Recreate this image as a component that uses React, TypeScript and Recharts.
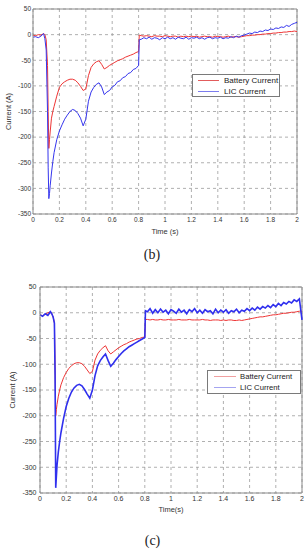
import React from 'react';
import { LineChart, Line, XAxis, YAxis, CartesianGrid, ReferenceLine, Legend, Label } from 'recharts';

// ---------- data ----------
const time = [
  0, 0.02, 0.04, 0.06, 0.08, 0.09, 0.1, 0.11, 0.115, 0.12,
  0.125, 0.13, 0.14, 0.15, 0.16, 0.18, 0.2, 0.22, 0.24, 0.26,
  0.28, 0.3, 0.32, 0.34, 0.36, 0.38, 0.4, 0.42, 0.44, 0.46,
  0.48, 0.5, 0.52, 0.54, 0.56, 0.58, 0.6, 0.62, 0.64, 0.66,
  0.68, 0.7, 0.72, 0.74, 0.76, 0.78, 0.8, 0.805,
  0.82, 0.84, 0.86, 0.88, 0.9, 0.92, 0.94, 0.96, 0.98, 1.0,
  1.02, 1.04, 1.06, 1.08, 1.1, 1.12, 1.14, 1.16, 1.18, 1.2,
  1.22, 1.24, 1.26, 1.28, 1.3, 1.32, 1.34, 1.36, 1.38, 1.4,
  1.42, 1.44, 1.46, 1.48, 1.5, 1.52, 1.54, 1.56, 1.58, 1.6,
  1.62, 1.64, 1.66, 1.68, 1.7, 1.72, 1.74, 1.76, 1.78, 1.8,
  1.82, 1.84, 1.86, 1.88, 1.9, 1.92, 1.94, 1.96, 1.98, 2,
];

// panel (b)
const batteryB = [
  -1, -2, 0, -1, 2, 0, -10, -60, -150, -222,
  -205, -190, -163, -150, -140, -120, -103, -96, -92, -89,
  -87, -87, -89, -94, -101, -109, -106, -80, -64, -57,
  -53, -51, -58, -67, -64, -60, -57, -54, -51, -49,
  -47, -44, -42, -40, -38, -35, -33, -1,
  -2, -3, -2, -3, -4, -2, -3, -3, -4, -2,
  -3, -4, -3, -3, -5, -3, -4, -3, -4, -3,
  -4, -3, -5, -4, -3, -4, -4, -5, -3, -4,
  -4, -5, -4, -3, -5, -4, -4, -5, -4, -3,
  -2, -2, -1, -1, 0, 0, 1, 1, 2, 2,
  3, 3, 4, 4, 5, 5, 6, 6, 7, 6,
];
const licB = [
  -5, -4, -6, -3, 2, -8, -30, -150, -260, -320,
  -310, -295, -270, -248, -230, -205, -188, -176, -165, -157,
  -150, -146, -148, -154, -163, -178, -165, -130, -112, -103,
  -97, -94, -102, -117, -112, -109, -102, -99, -92, -90,
  -84, -82, -76, -74, -68, -66, -60, -10,
  -9, -6, -8, -5, -9, -6, -7, -10, -6, -8,
  -5, -8, -6, -9, -5, -7, -8, -5, -9, -6,
  -7, -5, -8, -6, -9, -6, -5, -8, -6, -7,
  -5, -8, -6, -7, -4, -6, -3, -5, -2, -1,
  1, 3, 2, 5, 4, 7, 6, 9, 8, 11,
  10, 13, 12, 15, 14, 18, 16, 20, 22, 24,
];

// panel (c)
const batteryC = [
  -4, -6, -3, 0, 2, -2, -8, -20, -100, -200,
  -188, -178, -162, -150, -140, -126, -116, -108, -103, -99,
  -97, -97, -99, -104, -111, -118, -114, -92, -80, -73,
  -68, -64, -74, -80, -76, -72, -68, -65, -62, -60,
  -57, -55, -53, -51, -50, -48, -47, -13,
  -13, -14, -13, -14, -14, -13, -14, -14, -13, -14,
  -14, -14, -13, -14, -14, -14, -13, -14, -14, -14,
  -14, -13, -14, -14, -15, -14, -14, -14, -15, -14,
  -15, -14, -14, -15, -15, -14, -15, -14, -13, -12,
  -11, -10, -9, -8, -8, -7, -6, -5, -4, -4,
  -3, -2, -1, -1, 0, 1, 1, 2, 3, 3,
];
const licC = [
  -4, -7, -2, -5, 2, -2, -8, -20, -120, -340,
  -318, -296, -270, -250, -233, -205, -182, -166, -154, -146,
  -141, -139, -142, -149, -158, -166, -150, -122, -103, -93,
  -86, -80, -93, -104, -98, -91, -85, -79, -74, -70,
  -66, -63, -60, -57, -54, -51, -48, 4,
  2, 8, -1, 6, 0, 7, 1, 5, -2, 6,
  3, -1, 7, 1, 5, -2, 6, 2, 8, 0,
  5, -1, 6, 2, 4, -2, 7, 0, 5, 1,
  6, -1, 4, 2, 7, 0, 5, 3, 8, 4,
  9, 5, 11, 7, 12, 9, 14, 10, 16, 12,
  18, 14, 20, 17, 22, 19, 25, 22, 27, -14,
];

const xTicks = [0, 0.2, 0.4, 0.6, 0.8, 1, 1.2, 1.4, 1.6, 1.8, 2];
const yTicks = [50, 0, -50, -100, -150, -200, -250, -300, -350];
const seriesNames = ['Battery Current', 'LIC Current'];
const yTitle = 'Current (A)';
const xTitleB = 'Time (s)';
const xTitleC = 'Time(s)';
const captions = ['(b)', '(c)'];

const rowsB = time.map((t, i) => ({ t, bat: batteryB[i], lic: licB[i] }));
const rowsC = time.map((t, i) => ({ t, bat: batteryC[i], lic: licC[i] }));

const FONT = '"Liberation Sans", Arial, sans-serif';

type PanelCfg = {
  data: any[];
  top: number;
  height: number;
  right: number;
  yw: number;
  tickFs: number;
  yTickGap: number;
  xTickGap: number;
  titleFs: number;
  xTitle: string;
  xTitleY: number;
  yTitleX: number;
  legend: { left: number; top: number; width: number; height: number; r1: number; r2: number; lx: number; lw: number; tx: number; fs: number; colors: string[] };
  batColor: string;
  licColor: string;
  batW: number;
  licW: number;
};

function Panel(p: PanelCfg) {
  const plotLeft = p.yw;
  const plotRight = 308 - p.right;
  const plotTop = 9;
  const plotBottom = p.height - 26;
  const lg = p.legend;
  const legendContent = (props: any) => {
    const payload = props.payload || [];
    return (
      <div
        style={{
          position: 'relative',
          width: lg.width,
          height: lg.height,
          boxSizing: 'border-box',
          border: '1px solid #7a7a7a',
          background: '#fff',
          fontFamily: FONT,
          fontSize: lg.fs,
          color: '#222',
        }}
      >
        {payload.map((e: any, i: number) => {
          const cy = i === 0 ? lg.r1 : lg.r2;
          return (
            <React.Fragment key={i}>
              <div
                style={{
                  position: 'absolute',
                  left: lg.lx,
                  top: cy - 1,
                  width: lg.lw,
                  height: 0,
                  borderTop: `1px solid ${lg.colors[i]}`,
                }}
              />
              <div
                style={{
                  position: 'absolute',
                  left: lg.tx,
                  top: cy - 6,
                  height: 12,
                  lineHeight: '12px',
                  whiteSpace: 'nowrap',
                }}
              >
                {e.value}
              </div>
            </React.Fragment>
          );
        })}
      </div>
    );
  };
  return (
    <div style={{ position: 'absolute', left: 0, top: p.top, width: 308, height: p.height }}>
      <LineChart
        width={308}
        height={p.height}
        data={p.data}
        margin={{ top: plotTop, right: p.right, left: 0, bottom: 0 }}
      >
        <CartesianGrid stroke="#9c9c9c" strokeDasharray="3 3" strokeWidth={0.8} />
        <XAxis
          dataKey="t"
          type="number"
          domain={[0, 2]}
          ticks={xTicks}
          interval={0}
          height={26}
          tickSize={0}
          tickMargin={p.xTickGap}
          tickLine={false}
          axisLine={{ stroke: '#8a8a8a' }}
          tick={{ fontSize: p.tickFs, fill: '#333', fontFamily: FONT }}
          tickFormatter={(v: number) => String(v)}
        >
          <Label
            content={() => (
              <text
                x={(plotLeft + plotRight) / 2}
                y={p.xTitleY}
                textAnchor="middle"
                dominantBaseline="central"
                fontSize={p.titleFs}
                fontFamily={FONT}
                fill="#333"
              >
                {p.xTitle}
              </text>
            )}
          />
        </XAxis>
        <YAxis
          type="number"
          domain={[-350, 50]}
          ticks={yTicks}
          interval={0}
          width={p.yw}
          tickSize={0}
          tickMargin={p.yTickGap}
          tickLine={false}
          axisLine={{ stroke: '#8a8a8a' }}
          tick={{ fontSize: p.tickFs, fill: '#333', fontFamily: FONT }}
        >
          <Label
            content={() => {
              const cy = (plotTop + plotBottom) / 2;
              return (
                <text
                  x={p.yTitleX}
                  y={cy}
                  transform={`rotate(-90 ${p.yTitleX} ${cy})`}
                  textAnchor="middle"
                  dominantBaseline="central"
                  fontSize={p.titleFs}
                  fontFamily={FONT}
                  fill="#333"
                >
                  {yTitle}
                </text>
              );
            }}
          />
        </YAxis>
        <ReferenceLine y={50} stroke="#8a8a8a" strokeWidth={1} />
        <ReferenceLine x={2} stroke="#8a8a8a" strokeWidth={1} />
        <Line
          type="linear"
          dataKey="bat"
          name={seriesNames[0]}
          stroke={p.batColor}
          strokeWidth={p.batW}
          dot={false}
          isAnimationActive={false}
        />
        <Line
          type="linear"
          dataKey="lic"
          name={seriesNames[1]}
          stroke={p.licColor}
          strokeWidth={p.licW}
          dot={false}
          isAnimationActive={false}
        />
        <Legend
          layout="horizontal"
          verticalAlign="middle"
          align="center"
          content={legendContent}
          wrapperStyle={{ left: lg.left, top: lg.top, width: lg.width, height: lg.height, right: 'auto', bottom: 'auto' }}
        />
      </LineChart>
    </div>
  );
}

export default function App() {
  return (
    <div style={{ position: 'absolute', left: 0, top: 0, width: 308, height: 550, background: '#fff', overflow: 'hidden' }}>
      <Panel
        data={rowsB}
        top={0}
        height={240}
        right={11}
        yw={33}
        tickFs={6.5}
        yTickGap={2}
        xTickGap={3.7}
        titleFs={7.5}
        xTitle={xTitleB}
        xTitleY={231}
        yTitleX={8}
        legend={{ left: 192, top: 74, width: 88, height: 23, r1: 6, r2: 17, lx: 5, lw: 21, tx: 31, fs: 8, colors: ['#e25c5c', '#7c7cee'] }}
        batColor="#ee3535"
        licColor="#3535ee"
        batW={1}
        licW={1}
      />
      <div
        style={{
          position: 'absolute', left: 0, top: 246, width: 304, height: 18, lineHeight: '18px',
          textAlign: 'center', fontFamily: '"Liberation Serif", "Times New Roman", serif', fontSize: 14, color: '#222',
        }}
      >
        {captions[0]}
      </div>
      <Panel
        data={rowsC}
        top={278}
        height={241}
        right={6}
        yw={40}
        tickFs={7}
        yTickGap={3.5}
        xTickGap={3.5}
        titleFs={7.5}
        xTitle={xTitleC}
        xTitleY={231}
        yTitleX={12.5}
        legend={{ left: 207, top: 92, width: 94, height: 24, r1: 6, r2: 17, lx: 5.5, lw: 22.5, tx: 32, fs: 7.7, colors: ['#f0a0a0', '#a4a4f0'] }}
        batColor="#ee3535"
        licColor="#3030ee"
        batW={1}
        licW={1.6}
      />
      <div
        style={{
          position: 'absolute', left: 0, top: 532, width: 305, height: 18, lineHeight: '18px',
          textAlign: 'center', fontFamily: '"Liberation Serif", "Times New Roman", serif', fontSize: 14, color: '#222',
        }}
      >
        {captions[1]}
      </div>
    </div>
  );
}
